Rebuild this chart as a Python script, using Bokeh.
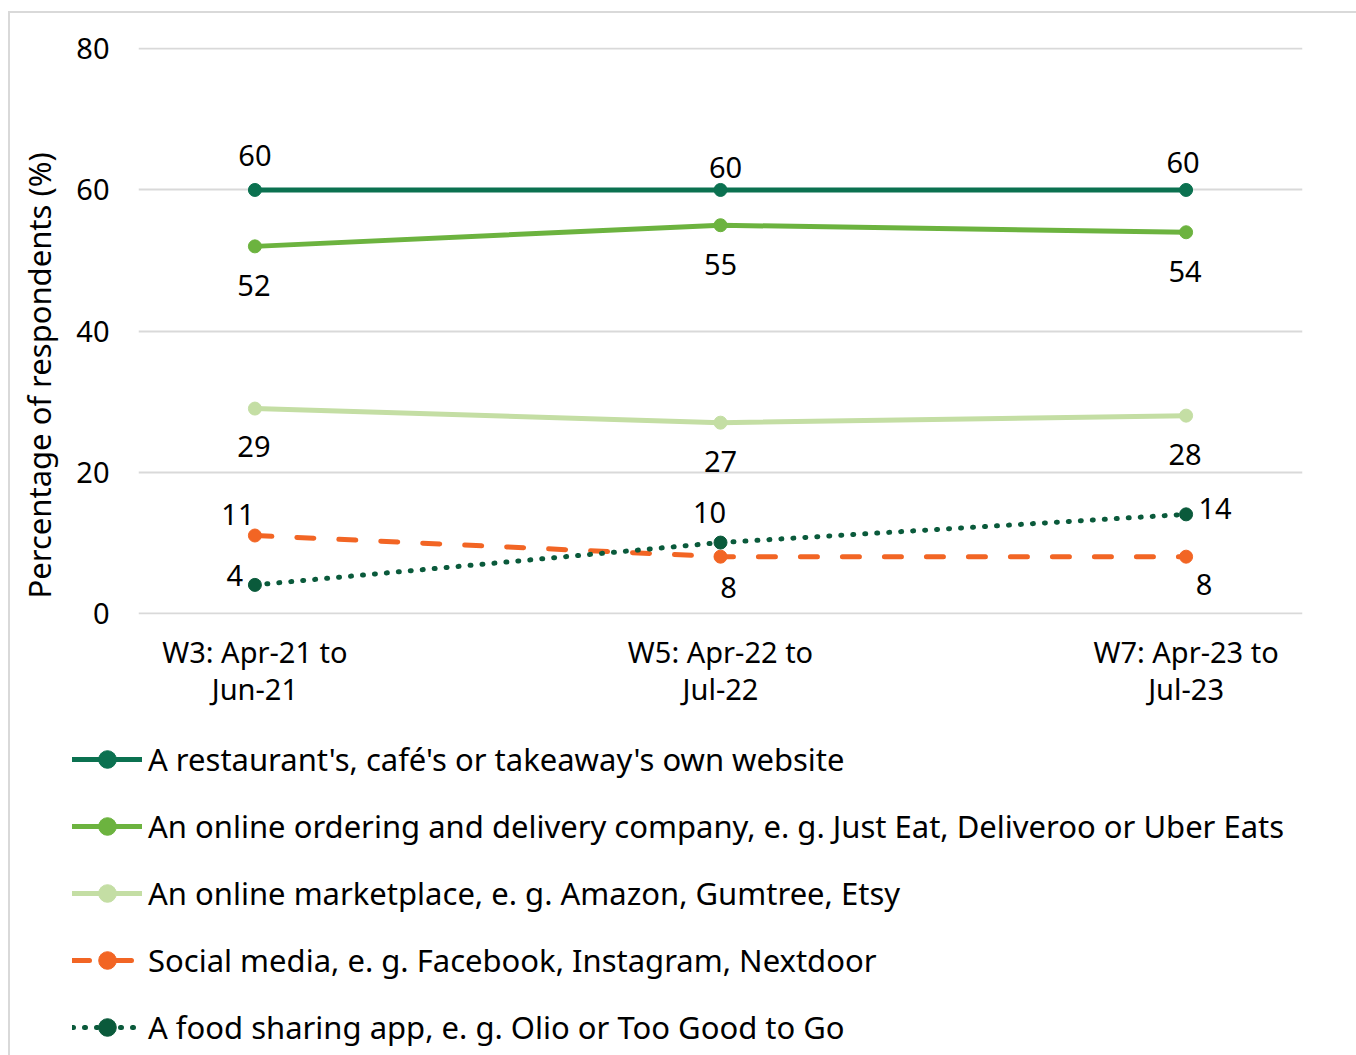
from bokeh.plotting import figure
from bokeh.layouts import column
from bokeh.models import (Range1d, FixedTicker, Legend, LegendItem, Title,
                          ColumnDataSource)
from bokeh.core.properties import value
from bokeh.embed import file_html
from bokeh.resources import INLINE

# --- data -------------------------------------------------------------
periods = ["W3: Apr-21 to\nJun-21", "W5: Apr-22 to\nJul-22", "W7: Apr-23 to\nJul-23"]
period_pos = [0, 1, 2]

own_website = [60, 60, 60]
delivery_company = [52, 55, 54]
marketplace = [29, 27, 28]
social_media = [11, 8, 8]
food_sharing = [4, 10, 14]

series_names = [
    "A restaurant's, café's or takeaway's own website",
    "An online ordering and delivery company, e. g. Just Eat, Deliveroo or Uber Eats",
    "An online marketplace, e. g. Amazon, Gumtree, Etsy",
    "Social media, e. g. Facebook, Instagram, Nextdoor",
    "A food sharing app, e. g. Olio or Too Good to Go",
]

y_ticks = [0, 20, 40, 60, 80]
y_title = "Percentage of respondents (%)"

# --- styling ----------------------------------------------------------
FONT = "Noto Sans"
FS = "29px"
colors = ["#0b7150", "#6cb33f", "#c4dea4", "#f26524", "#0a5a3b"]
dashes = ["solid", "solid", "solid", "17 25", "1 11"]
# data-label offsets in pixels (dx, dy) for each point of each series
label_offsets = [
    [(0, -34), (5, -22), (-3, -27)],
    [(-1, 39), (0, 39), (-1, 39)],
    [(-1, 38), (0, 39), (-1, 39)],
    [(-17, -21), (8, 31), (18, 28)],
    [(-20, -9), (-11, -30), (29, -6)],
]

W = 1356

# --- main chart ---------------------------------------------------------
p = figure(width=W, height=725, frame_width=1164, frame_height=567,
           min_border_left=138, min_border_right=54, min_border_top=47,
           min_border_bottom=111,
           x_range=Range1d(-0.25, 2.25), y_range=Range1d(-0.2, 80.2),
           output_backend="svg", toolbar_location=None)
p.outline_line_color = None
p.background_fill_color = "white"
p.border_fill_alpha = 0

p.xgrid.grid_line_color = None
p.ygrid.grid_line_color = "#d9d9d9"
p.ygrid.grid_line_width = 2

p.yaxis.ticker = FixedTicker(ticks=y_ticks)
p.xaxis.ticker = FixedTicker(ticks=period_pos)
p.xaxis.major_label_overrides = {pos: lab for pos, lab in zip(period_pos, periods)}
for ax in (p.xaxis, p.yaxis):
    ax.axis_line_color = None
    ax.major_tick_line_color = None
    ax.minor_tick_line_color = None
    ax.major_label_text_font = FONT
    ax.major_label_text_font_size = FS
    ax.major_label_text_color = "black"
p.yaxis.major_label_standoff = 23
p.xaxis.major_label_standoff = 11
p.xaxis.major_label_text_line_height = 0.95

p.add_layout(Title(text=y_title, align="left", offset=16, standoff=28,
                   text_font=FONT, text_font_size="31px", text_font_style="normal",
                   text_color="black"), "left")

all_values = [own_website, delivery_company, marketplace, social_media, food_sharing]
sources = []
for vals, col, dash, offs in zip(all_values, colors, dashes, label_offsets):
    src = ColumnDataSource(dict(
        x=period_pos, y=vals, lab=[str(v) for v in vals],
        dx=[o[0] for o in offs], dy=[o[1] for o in offs]))
    sources.append(src)
    p.line("x", "y", source=src, line_color=col, line_width=5,
           line_dash=dash, line_cap="round")
    p.scatter("x", "y", source=src, size=13, fill_color=col, line_color=col)
    p.text("x", "y", text="lab", source=src, x_offset="dx", y_offset="dy",
           text_align="center", text_baseline="middle", text_color="black",
           text_font=value(FONT), text_font_size=FS)

# --- legend panel below the chart ----------------------------------------
lg = figure(width=W, height=330, frame_width=W, frame_height=330,
            min_border=0, x_axis_location=None, y_axis_location=None,
            x_range=Range1d(100, 101), y_range=Range1d(100, 101),
            output_backend="svg", toolbar_location=None)
lg.outline_line_color = None
lg.background_fill_alpha = 0
lg.border_fill_alpha = 0
lg.grid.visible = False

items = []
for name, src, col, dash in zip(series_names, sources, colors, dashes):
    lr = lg.line("x", "y", source=src, line_color=col, line_width=5,
                 line_dash=dash, line_cap="round")
    sr = lg.scatter("x", "y", source=src, size=13, fill_color=col, line_color=col)
    items.append(LegendItem(label=name, renderers=[lr, sr]))

legend = Legend(items=items, location=(72, 6), orientation="vertical",
                glyph_width=70, glyph_height=44, label_height=44, spacing=23,
                padding=0, margin=0, label_standoff=6,
                background_fill_alpha=0, border_line_alpha=0,
                label_text_font=FONT, label_text_font_size="31px",
                label_text_color="black")
lg.add_layout(legend)

page = column(p, lg, spacing=0)
page.styles = {"background": "white",
               "box-shadow": "inset 8px 11px 0 0 #ffffff, inset 10px 13px 0 0 #d9d9d9"}

open("out.html", "w").write(file_html(page, INLINE))
